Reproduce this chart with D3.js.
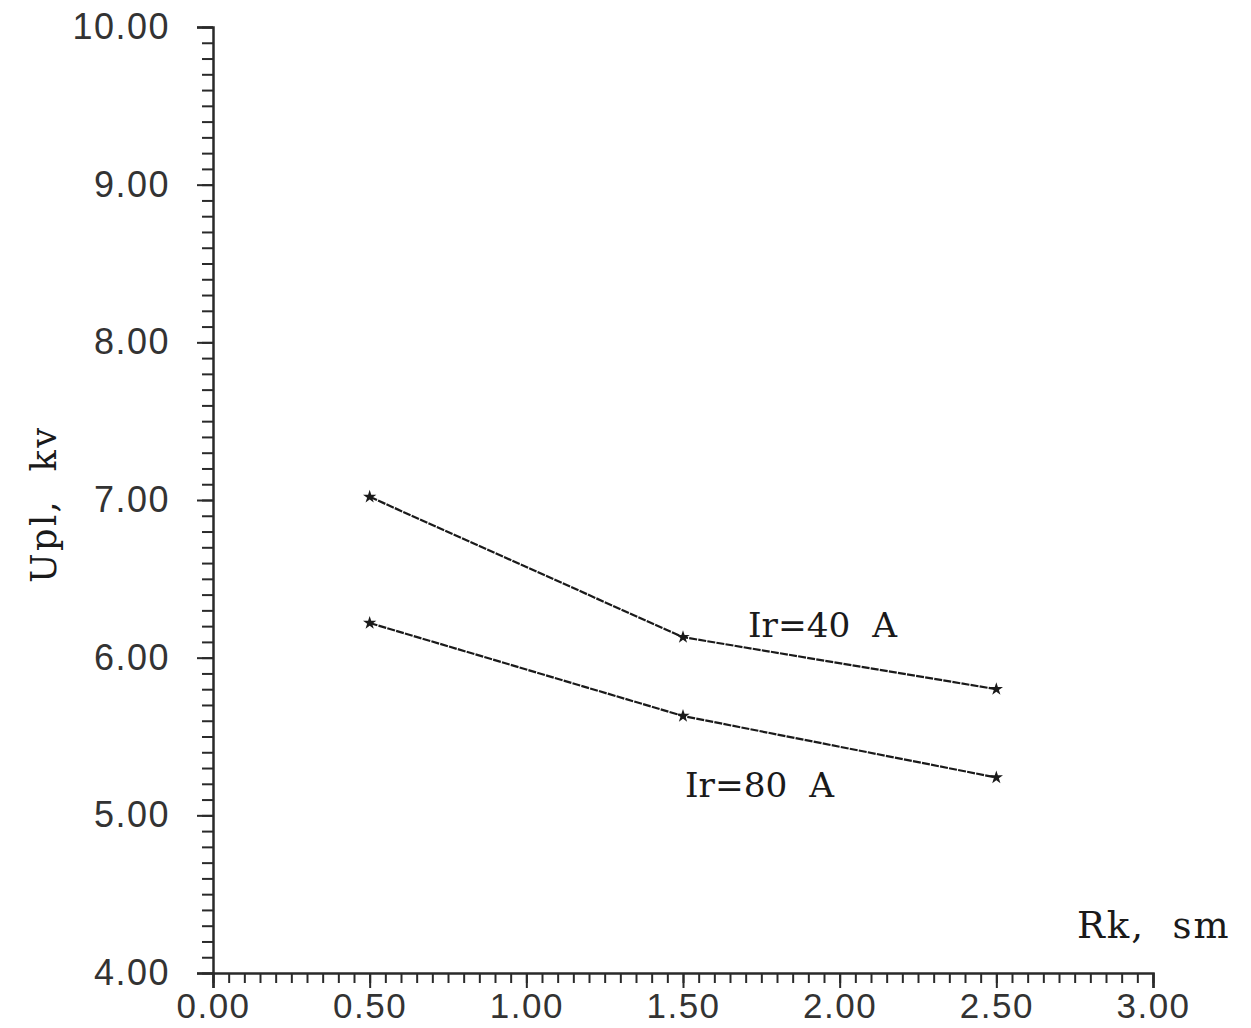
<!DOCTYPE html>
<html><head><meta charset="utf-8">
<script src="https://cdn.jsdelivr.net/npm/d3@7"></script>
<style>
html,body{margin:0;padding:0;background:#fff;}
svg{display:block;}
</style></head>
<body><svg id="c" width="1251" height="1028"></svg>
<script>
const rk = [0.5, 1.5, 2.5];
const upl40 = [7.02, 6.13, 5.80];
const upl80 = [6.22, 5.63, 5.24];
const seriesNames = ["Ir=40  A", "Ir=80  A"];
const xMajorTicks = [0, 0.5, 1.0, 1.5, 2.0, 2.5, 3.0];
const yMajorTicks = [4, 5, 6, 7, 8, 9, 10];
const xTitle = "Rk,  sm";
const yTitle = "Upl,  kv";

const svg = d3.select("#c");
const x = d3.scaleLinear().domain([0, 3]).range([213, 1153]);
const y = d3.scaleLinear().domain([4, 10]).range([973, 27]);
const ink = "#2a2a2a";

// Y axis minor
const yMinor = d3.range(40, 101).map(d => d / 10);
svg.append("g").attr("transform", `translate(${x(0)},0)`)
  .call(d3.axisLeft(y).tickValues(yMinor).tickSize(11).tickFormat(""))
  .call(g => g.select(".domain").remove())
  .call(g => g.selectAll("line").attr("stroke", ink).attr("stroke-width", 2));
// Y axis major
svg.append("g").attr("transform", `translate(${x(0)},0)`)
  .call(d3.axisLeft(y).tickValues(yMajorTicks).tickSize(16).tickPadding(27).tickFormat(d3.format(".2f")))
  .call(g => g.select(".domain").attr("stroke", ink).attr("stroke-width", 2.5))
  .call(g => g.selectAll("line").attr("stroke", ink).attr("stroke-width", 2))
  .call(g => g.selectAll("text").attr("fill", "#333").attr("font-family", "Liberation Sans, Arial, sans-serif")
      .attr("font-size", 36).attr("letter-spacing", 1.5));

// X axis minor
const xMinor = d3.range(0, 61).map(d => d / 20);
svg.append("g").attr("transform", `translate(0,${y(4)})`)
  .call(d3.axisBottom(x).tickValues(xMinor).tickSize(10).tickFormat(""))
  .call(g => g.select(".domain").remove())
  .call(g => g.selectAll("line").attr("stroke", ink).attr("stroke-width", 2));
// X axis major
svg.append("g").attr("transform", `translate(0,${y(4)})`)
  .call(d3.axisBottom(x).tickValues(xMajorTicks).tickSize(15).tickPadding(5).tickFormat(d3.format(".2f")))
  .call(g => g.select(".domain").attr("stroke", ink).attr("stroke-width", 2.5))
  .call(g => g.selectAll("line").attr("stroke", ink).attr("stroke-width", 2))
  .call(g => g.selectAll("text").attr("fill", "#333").attr("font-family", "Liberation Sans, Arial, sans-serif")
      .attr("font-size", 35).attr("letter-spacing", 1.5));

// Series
const line = d3.line().x(d => x(d[0])).y(d => y(d[1]));
[upl40, upl80].forEach(vals => {
  const pts = rk.map((r, i) => [r, vals[i]]);
  svg.append("path").datum(pts).attr("d", line)
    .attr("fill", "none").attr("stroke", "#1a1a1a").attr("stroke-width", 2.2)
    .attr("stroke-dasharray", "8,1.2");
  svg.selectAll(null).data(pts).enter().append("path")
    .attr("d", d3.symbol(d3.symbolStar, 55))
    .attr("transform", d => `translate(${x(d[0])},${y(d[1])})`)
    .attr("fill", "#1a1a1a");
});

// Series labels
const serif = "DejaVu Serif, Liberation Serif, serif";
svg.append("text").attr("x", 748).attr("y", 637).text(seriesNames[0])
  .attr("font-family", serif).attr("font-size", 34).attr("fill", "#1a1a1a")
  .attr("textLength", 149).attr("lengthAdjust", "spacingAndGlyphs").style("white-space", "pre");
svg.append("text").attr("x", 685).attr("y", 797).text(seriesNames[1])
  .attr("font-family", serif).attr("font-size", 34).attr("fill", "#1a1a1a")
  .attr("textLength", 149).attr("lengthAdjust", "spacingAndGlyphs").style("white-space", "pre");

// Axis titles
svg.append("text").attr("x", 1077).attr("y", 938).text(xTitle)
  .attr("font-family", serif).attr("font-size", 37).attr("fill", "#1a1a1a")
  .attr("letter-spacing", 2).style("white-space", "pre");
svg.append("text").attr("transform", "translate(56,583) rotate(-90)").text(yTitle)
  .attr("font-family", serif).attr("font-size", 35).attr("fill", "#1a1a1a")
  .attr("letter-spacing", 2.5).style("white-space", "pre");
</script></body></html>
